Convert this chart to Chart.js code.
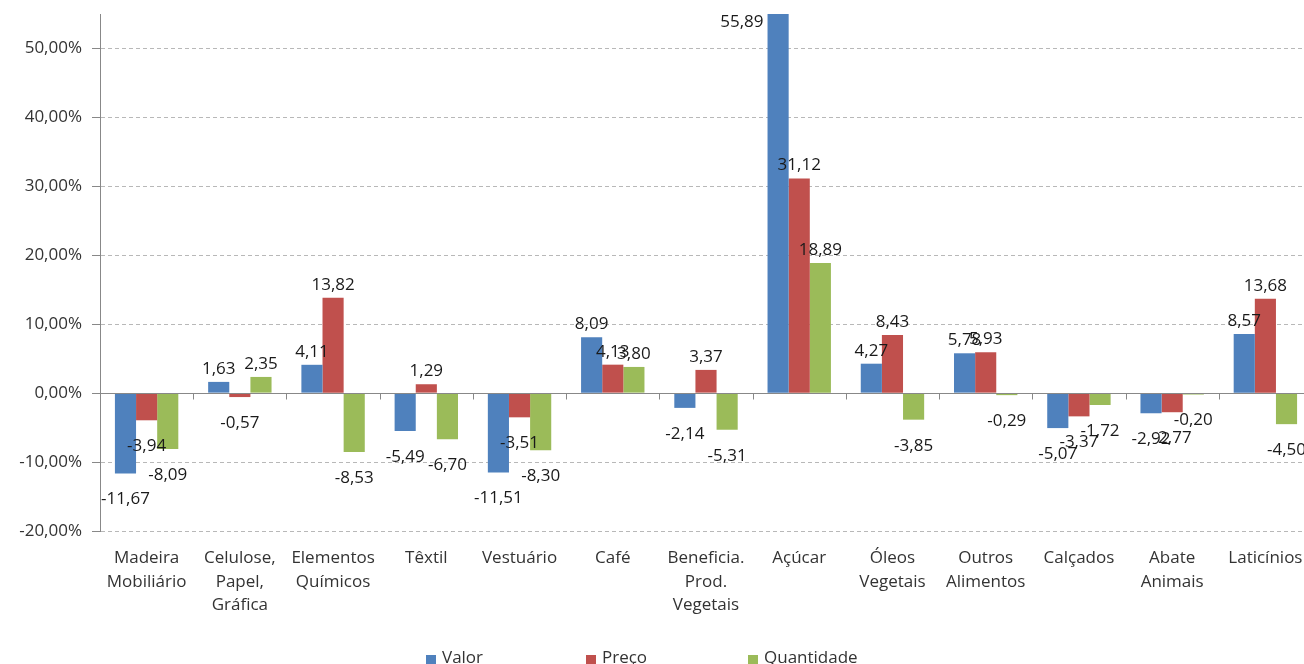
<!DOCTYPE html>
<html>
<head>
<meta charset="utf-8">
<script src="https://cdn.jsdelivr.net/npm/chart.js@4"></script>
<style>
  html, body { margin: 0; padding: 0; background: #fff; overflow: hidden; }
  #wrap { width: 1312px; height: 664px; position: relative; }
</style>
</head>
<body>
<div id="wrap"><canvas id="chart"></canvas></div>
<script>
// data
const categories = [
  ["Madeira", "Mobiliário"], ["Celulose,", "Papel,", "Gráfica"], ["Elementos", "Químicos"],
  ["Têxtil"], ["Vestuário"], ["Café"], ["Beneficia.", "Prod.", "Vegetais"], ["Açúcar"],
  ["Óleos", "Vegetais"], ["Outros", "Alimentos"], ["Calçados"], ["Abate", "Animais"], ["Laticínios"]
];
const valor      = [-11.67, 1.63, 4.11, -5.49, -11.51, 8.09, -2.14, 55.89, 4.27, 5.78, -5.07, -2.92, 8.57];
const preco      = [-3.94, -0.57, 13.82, 1.29, -3.51, 4.13, 3.37, 31.12, 8.43, 5.93, -3.37, -2.77, 13.68];
const quantidade = [-8.09, 2.35, -8.53, -6.70, -8.30, 3.80, -5.31, 18.89, -3.85, -0.29, -1.72, -0.20, -4.50];
const seriesNames = ["Valor", "Preço", "Quantidade"];
const yTicks = [-20, -10, 0, 10, 20, 30, 40, 50];

const colors = ["#4F81BD", "#C0504D", "#9BBB59"];
const FONT = "'Open Sans', sans-serif";

function fmt(v) {
  return v.toFixed(2).replace(".", ",");
}

// zero line with category ticks, like the excel axis
const zeroAxis = {
  id: "zeroAxis",
  afterDatasetsDraw(chart) {
    const { ctx, chartArea, scales: { y } } = chart;
    const y0 = Math.round(y.getPixelForValue(0)) + 0.5;
    const step = chartArea.width / categories.length;
    ctx.save();
    ctx.strokeStyle = "#888";
    ctx.lineWidth = 1;
    ctx.beginPath();
    ctx.moveTo(chartArea.left - 8, y0);
    ctx.lineTo(chartArea.right, y0);
    for (let i = 1; i <= categories.length; i++) {
      const px = Math.round(chartArea.left + i * step) + 0.5;
      ctx.moveTo(px, y0);
      ctx.lineTo(px, y0 + 6);
    }
    ctx.stroke();
    ctx.restore();
  }
};

const valueLabels = {
  id: "valueLabels",
  afterDatasetsDraw(chart) {
    const { ctx, chartArea } = chart;
    ctx.save();
    ctx.font = "17px " + FONT;
    ctx.fillStyle = "#1a1a1a";
    ctx.textBaseline = "middle";
    chart.data.datasets.forEach((ds, di) => {
      chart.getDatasetMeta(di).data.forEach((bar, i) => {
        const v = ds.data[i];
        const txt = fmt(v);
        if (bar.y < chartArea.top) {
          ctx.textAlign = "right";
          ctx.fillText(txt, bar.x - bar.width / 2 - 4, chartArea.top + 8);
        } else if (v >= 0) {
          ctx.textAlign = "center";
          ctx.fillText(txt, bar.x, bar.y - 13);
        } else {
          ctx.textAlign = "center";
          ctx.fillText(txt, bar.x, bar.y + 26);
        }
      });
    });
    ctx.restore();
  }
};

const bottomLegend = {
  id: "bottomLegend",
  afterDraw(chart) {
    const { ctx } = chart;
    const xs = [426, 586, 748];
    const yc = 658;
    ctx.save();
    ctx.font = "17px " + FONT;
    ctx.textBaseline = "middle";
    ctx.textAlign = "left";
    seriesNames.forEach((name, i) => {
      ctx.fillStyle = colors[i];
      ctx.fillRect(xs[i], yc - 3, 10, 10);
      ctx.fillStyle = "#333";
      ctx.fillText(name, xs[i] + 16, yc);
    });
    ctx.restore();
  }
};

new Chart(document.getElementById("chart"), {
  type: "bar",
  data: {
    labels: categories,
    datasets: [
      { label: seriesNames[0], data: valor, backgroundColor: colors[0] },
      { label: seriesNames[1], data: preco, backgroundColor: colors[1] },
      { label: seriesNames[2], data: quantidade, backgroundColor: colors[2] }
    ]
  },
  options: {
    responsive: true,
    maintainAspectRatio: false,
    animation: false,
    layout: { padding: { top: 14, right: 0, bottom: 0, left: 0 } },
    datasets: { bar: { categoryPercentage: 0.68, barPercentage: 1.0, borderWidth: 0 } },
    plugins: { legend: { display: false }, tooltip: { enabled: false } },
    scales: {
      x: {
        grid: { display: false },
        border: { display: false },
        ticks: {
          color: "#333", autoSkip: false, maxRotation: 0, padding: 7,
          font: { family: FONT, size: 17, lineHeight: 1.4 }
        },
        afterFit: s => { s.height = 133; s.paddingLeft = 0; s.paddingRight = 0; }
      },
      y: {
        min: -20,
        max: 55,
        afterBuildTicks: s => { s.ticks = yTicks.map(v => ({ value: v })); },
        ticks: {
          color: "#333", padding: 10,
          font: { family: FONT, size: 17 },
          callback: v => fmt(v) + "%"
        },
        grid: { color: "#b8b8b8", tickColor: "#888", tickLength: 8 },
        border: { display: true, color: "#888", dash: [4, 3] },
        afterFit: s => { s.width = 100; s.paddingTop = 0; s.paddingBottom = 0; }
      }
    }
  },
  plugins: [zeroAxis, valueLabels, bottomLegend]
});
</script>
</body>
</html>
